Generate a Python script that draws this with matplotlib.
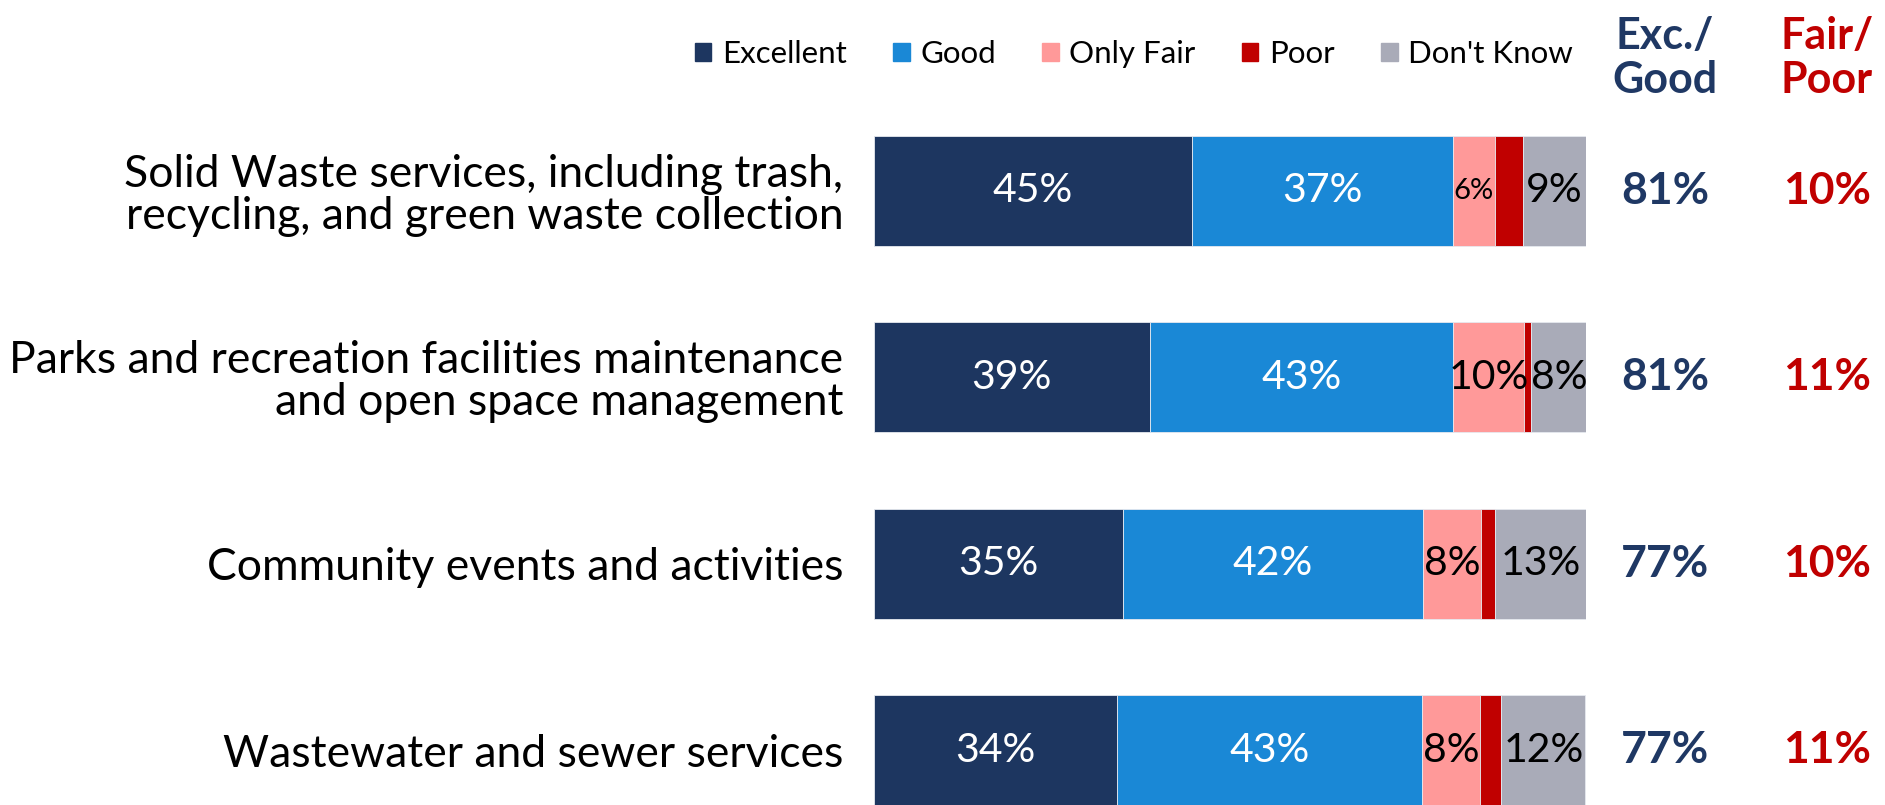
import matplotlib.pyplot as plt
import matplotlib.patches as mpatches
from matplotlib.transforms import blended_transform_factory

plt.rcParams['font.family'] = ['Lato', 'DejaVu Sans']

# data (percent of respondents)
services = [
    "Solid Waste services, including trash,\nrecycling, and green waste collection",
    "Parks and recreation facilities maintenance\nand open space management",
    "Community events and activities",
    "Wastewater and sewer services",
]
excellent = [44.6, 38.7, 35.0, 34.1]
good = [36.7, 42.6, 42.1, 42.9]
only_fair = [5.9, 10.0, 8.1, 8.1]
poor = [4.0, 1.0, 2.0, 3.0]
dont_know = [8.8, 7.8, 12.8, 11.8]
exc_good_total = [81, 81, 77, 77]
fair_poor_total = [10, 11, 10, 11]

series_names = ["Excellent", "Good", "Only Fair", "Poor", "Don't Know"]
series_vals = [excellent, good, only_fair, poor, dont_know]
colors = ["#1D3660", "#1A88D6", "#FF9999", "#C00000", "#A9ABB8"]
text_colors = ["white", "white", "black", None, "black"]  # Poor not labelled

NAVY = "#1F3864"
RED = "#C00000"

fig = plt.figure(figsize=(18.85, 8.05), dpi=100)
# axes placed so the bars line up with the reference layout
ax = fig.add_axes([874 / 1885, 0.0, 712 / 1885, 707.5 / 805])

ypos = list(range(len(services)))
left = [0.0] * len(services)
for name, vals, col, tcol in zip(series_names, series_vals, colors, text_colors):
    ax.barh(ypos, vals, left=left, height=0.59, color=col,
            edgecolor="#e6e9ef", linewidth=0.6, label=name)
    if tcol is not None:
        for y, l, v in zip(ypos, left, vals):
            fs = 29.5 if v >= 7 else 21
            ax.text(l + v / 2, y, f"{round(v)}%", ha="center", va="center",
                    color=tcol, fontsize=fs)
    left = [a + b for a, b in zip(left, vals)]

ax.set_xlim(0, 100)
ax.set_ylim(3.295, -0.5)
ax.set_yticks(ypos)
ax.set_yticklabels(services, fontsize=32, linespacing=1.03)
ax.tick_params(axis="y", length=0, pad=22)
ax.set_xticks([])
for s in ax.spines.values():
    s.set_visible(False)

# summary columns
tr = blended_transform_factory(fig.transFigure, ax.transData)
col_x1 = 1665 / 1885
col_x2 = 1827 / 1885
for y, eg, fp in zip(ypos, exc_good_total, fair_poor_total):
    ax.text(col_x1, y, f"{eg}%", transform=tr, ha="center", va="center",
            fontsize=32, fontweight="bold", color=NAVY)
    ax.text(col_x2, y, f"{fp}%", transform=tr, ha="center", va="center",
            fontsize=32, fontweight="bold", color=RED)

fig.text(col_x1, 1 - 58 / 805, "Exc./\nGood", ha="center", va="center",
         fontsize=31, fontweight="bold", color=NAVY, linespacing=1.15)
fig.text(col_x2, 1 - 58 / 805, "Fair/\nPoor", ha="center", va="center",
         fontsize=31, fontweight="bold", color=RED, linespacing=1.15)

handles = [mpatches.Patch(color=c, label=n) for n, c in zip(series_names, colors)]
fig.legend(handles=handles, loc="center right", bbox_to_anchor=(1601 / 1885, 1 - 54 / 805),
           ncol=5, frameon=False, fontsize=22.5, handlelength=0.53, handleheight=0.53,
           handletextpad=0.34, columnspacing=1.48)

fig.savefig("out.png", dpi=100)
